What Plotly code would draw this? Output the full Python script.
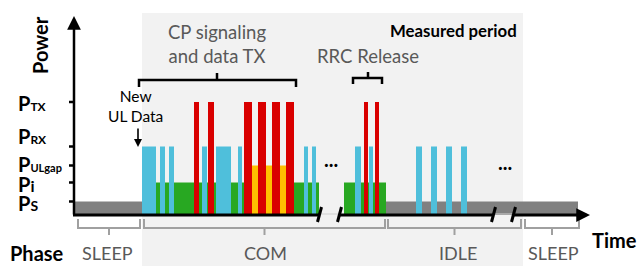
import plotly.graph_objects as go

# ---------------- data (time in arbitrary units, power in arbitrary units) -------------
level_keys = ["PS", "Pi", "PULgap", "PRX", "PTX"]
level_values = [1.35, 3.25, 4.95, 6.85, 11.3]
level_labels = [
    "<b>P<span style='font-size:14px'>S</span></b>",
    "<b>P<span style='font-size:16px'>i</span></b>",
    "<b>P<span style='font-size:11px'>ULgap</span></b>",
    "<b>P<span style='font-size:12px'>RX</span></b>",
    "<b>P<span style='font-size:12px'>TX</span></b>",
]
LV = dict(zip(level_keys, level_values))

# bar segments: start / end times
sleep_start = [0, 312]
sleep_end = [68, 504]
idle_pi_start = [82, 270]
idle_pi_end = [245, 312]
ulgap_start = [178]
ulgap_end = [212]
rx_start = [68, 86, 95, 128, 142, 164, 230, 238, 281, 295, 342, 357, 372, 387]
rx_end = [82, 91, 100, 133, 157, 168, 234, 242, 287, 299, 348, 363, 378, 393]
tx_start = [120, 134, 170, 184, 198, 212, 290, 301]
tx_end = [125, 140, 178, 192, 206, 220, 294, 305]

phase_names = ["SLEEP", "COM", "IDLE", "SLEEP"]

# ---------------- layout helpers (pixel -> data) ----------------
W, H = 639, 266
OX, OY, SY = 74, 215, 10.0


def X(px):
    return px - OX


def Y(py):
    return (OY - py) / SY


FONT = "Lato"
GRAY_TXT = "#595959"

fig = go.Figure()


def add_bars(starts, ends, level, color, name):
    xs = [(s + e) / 2 for s, e in zip(starts, ends)]
    ws = [e - s for s, e in zip(starts, ends)]
    fig.add_trace(go.Bar(x=xs, width=ws, y=[level] * len(xs), base=0,
                         marker=dict(color=color, line=dict(width=0)),
                         name=name, hoverinfo="skip", showlegend=False))


add_bars(sleep_start, sleep_end, LV["PS"], "#808080", "sleep")
add_bars(idle_pi_start, idle_pi_end, LV["Pi"], "#28A822", "Pi")
add_bars(ulgap_start, ulgap_end, LV["PULgap"], "#FFC000", "ULgap")
add_bars(rx_start, rx_end, LV["PRX"], "#4FBFDB", "RX")
add_bars(tx_start, tx_end, LV["PTX"], "#D90000", "TX")

shapes = []
# measured period background
shapes.append(dict(type="rect", xref="x", yref="y", x0=X(142), x1=X(523), y0=Y(266), y1=Y(13),
                   fillcolor="#F2F2F2", line=dict(width=0), layer="below"))

# baseline segments
for a, b in [(73, 320), (340, 494), (514, 582)]:
    shapes.append(dict(type="line", xref="x", yref="y", x0=X(a), x1=X(b), y0=Y(215), y1=Y(215),
                       line=dict(color="black", width=3), layer="above"))
for a, b in [(320, 340), (494, 514)]:
    shapes.append(dict(type="line", xref="x", yref="y", x0=X(a), x1=X(b), y0=Y(214), y1=Y(214),
                       line=dict(color="#D0D0D0", width=1), layer="above"))
# break marks
for bx in [320, 340, 494, 514]:
    shapes.append(dict(type="line", xref="x", yref="y", x0=X(bx - 2.5), x1=X(bx + 1.5), y0=Y(222), y1=Y(207),
                       line=dict(color="black", width=3), layer="above"))

# y-axis ticks at power levels
for v in level_values:
    shapes.append(dict(type="line", xref="x", yref="y", x0=X(69), x1=X(74), y0=v, y1=v,
                       line=dict(color="black", width=2.5), layer="above"))


def top_bracket(x1, x2, xc, yh, ydown, yup):
    return dict(type="path", xref="x", yref="y",
                path=f"M {X(x1)},{Y(ydown)} L {X(x1)},{Y(yh)} L {X(x2)},{Y(yh)} L {X(x2)},{Y(ydown)} "
                     f"M {X(xc)},{Y(yh)} L {X(xc)},{Y(yup)}",
                line=dict(color="black", width=2.5), layer="above")


shapes.append(top_bracket(139, 296, 217, 80, 87, 73))
shapes.append(top_bracket(353, 382, 368, 78, 84, 72))


def phase_bracket(x1, x2, xc):
    return dict(type="path", xref="x", yref="y",
                path=f"M {X(x1)},{Y(219)} L {X(x1)},{Y(228)} L {X(x2)},{Y(228)} L {X(x2)},{Y(219)} "
                     f"M {X(xc)},{Y(228)} L {X(xc)},{Y(235)}",
                line=dict(color="#A0A0A0", width=2), layer="above")


phase_px = [(78, 140), (144, 385), (388, 521), (525, 579)]
for a, b in phase_px:
    shapes.append(phase_bracket(a, b, (a + b) / 2))

ann = []
# axis arrows
ann.append(dict(x=X(74), y=Y(16), ax=X(74), ay=Y(216), xref="x", yref="y", axref="x", ayref="y",
                showarrow=True, arrowhead=2, arrowsize=1.1, arrowwidth=2.5, arrowcolor="black", text=""))
ann.append(dict(x=X(590), y=Y(215), ax=X(575), ay=Y(215), xref="x", yref="y", axref="x", ayref="y",
                showarrow=True, arrowhead=2, arrowsize=1.1, arrowwidth=2.5, arrowcolor="black", text=""))
# New UL data arrow
ann.append(dict(x=X(138), y=Y(147), ax=X(138), ay=Y(127), xref="x", yref="y", axref="x", ayref="y",
                showarrow=True, arrowhead=2, arrowsize=1, arrowwidth=1.6, arrowcolor="black", text=""))

# level labels (left aligned)
label_py = [203, 184, 164, 136, 103]
for lab, py in zip(level_labels, label_py):
    ann.append(dict(x=X(16), y=Y(py), xref="x", yref="y", text=lab, showarrow=False,
                    xanchor="left", yanchor="middle", font=dict(family=FONT, size=20, color="black")))

ann.append(dict(x=X(40), y=Y(45), xref="x", yref="y", text="<b>Power</b>", textangle=-90, showarrow=False,
                font=dict(family=FONT, size=20, color="black")))
ann.append(dict(x=X(37), y=Y(253), xref="x", yref="y", text="<b>Phase</b>", showarrow=False,
                font=dict(family=FONT, size=20, color="black")))
ann.append(dict(x=X(614), y=Y(240), xref="x", yref="y", text="<b>Time</b>", showarrow=False,
                font=dict(family=FONT, size=20, color="black")))

phase_label_px = [107, 265, 458, 553]
for name, px in zip(phase_names, phase_label_px):
    ann.append(dict(x=X(px), y=Y(253), xref="x", yref="y", text=name, showarrow=False,
                    font=dict(family=FONT, size=18, color=GRAY_TXT)))

ann.append(dict(x=X(217), y=Y(44), xref="x", yref="y", text="CP signaling<br>and data TX", showarrow=False,
                align="center", font=dict(family=FONT, size=18.5, color=GRAY_TXT)))
ann.append(dict(x=X(368), y=Y(56), xref="x", yref="y", text="RRC Release", showarrow=False,
                font=dict(family=FONT, size=18.5, color=GRAY_TXT)))
ann.append(dict(x=X(519), y=Y(30), xref="x", yref="y", text="<b>Measured period</b>", showarrow=False,
                xanchor="right", font=dict(family=FONT, size=16.8, color="black")))
ann.append(dict(x=X(135), y=Y(106), xref="x", yref="y", text="New<br>UL Data", showarrow=False,
                align="center", font=dict(family=FONT, size=15.5, color="black")))
ann.append(dict(x=X(331), y=Y(159), xref="x", yref="y", text="<b>...</b>", showarrow=False,
                font=dict(family=FONT, size=20, color="black")))
ann.append(dict(x=X(505), y=Y(162), xref="x", yref="y", text="<b>...</b>", showarrow=False,
                font=dict(family=FONT, size=20, color="black")))

fig.update_layout(
    width=W, height=H, margin=dict(l=0, r=0, t=0, b=0),
    paper_bgcolor="white", plot_bgcolor="white",
    barmode="overlay", showlegend=False,
    xaxis=dict(range=[X(0), X(W)], visible=False, fixedrange=True),
    yaxis=dict(range=[Y(H), Y(0)], visible=False, fixedrange=True),
    shapes=shapes, annotations=ann,
)

fig.write_html("out.html", config={"displayModeBar": False},
               post_script="document.body.style.margin='0px';document.body.style.overflow='hidden';")
